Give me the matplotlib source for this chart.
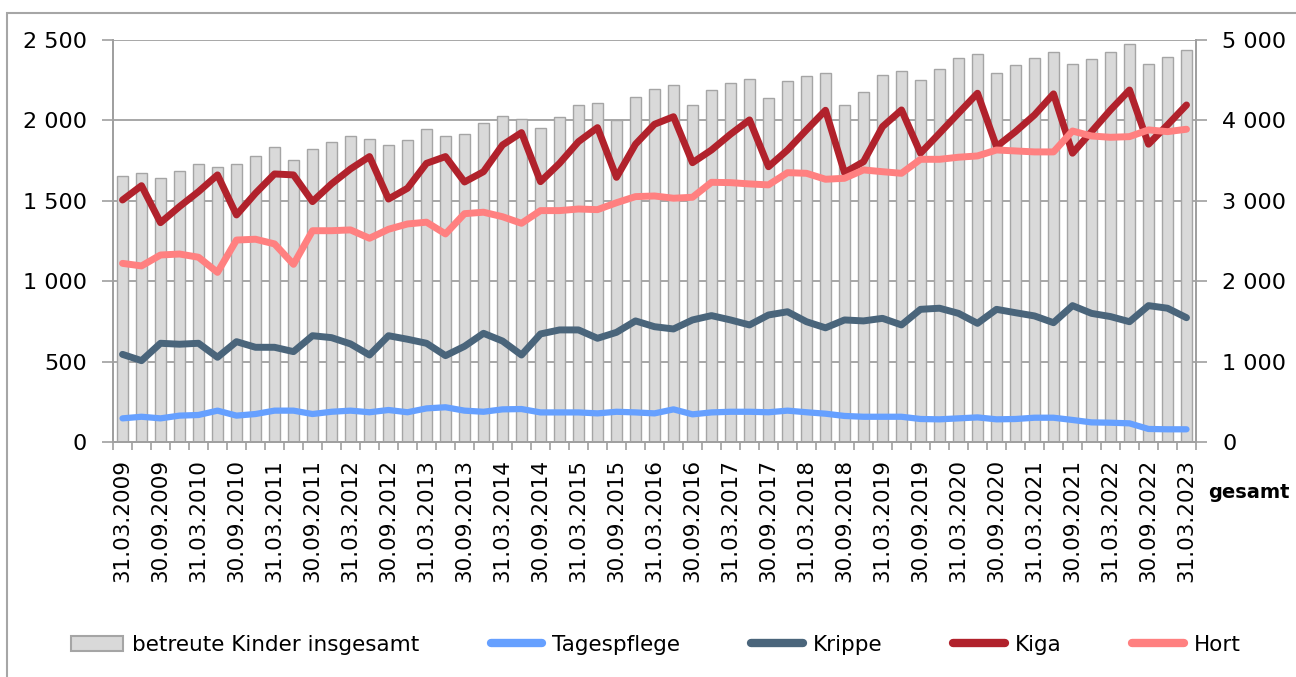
import numpy as np
import matplotlib
matplotlib.use('Agg')
import matplotlib.pyplot as plt
from matplotlib.lines import Line2D
from matplotlib.patches import Patch, Rectangle

# quarterly reporting dates 31.03.2009 .. 31.03.2023
years = list(range(2009, 2024))
quarter_days = ['31.03.', '30.06.', '30.09.', '31.12.']
dates = [d + str(y) for y in years for d in quarter_days][:57]

# betreute Kinder insgesamt (right axis)
gesamt = [3310, 3350, 3280, 3375, 3460, 3415, 3460, 3555, 3670, 3510,
          3640, 3730, 3800, 3765, 3690, 3750, 3895, 3800, 3830, 3965,
          4060, 4020, 3905, 4040, 4190, 4215, 4005, 4295, 4390, 4435,
          4190, 4380, 4460, 4515, 4280, 4485, 4550, 4590, 4195, 4355,
          4565, 4615, 4500, 4640, 4770, 4830, 4595, 4695, 4770, 4855,
          4705, 4760, 4845, 4950, 4705, 4790, 4880]

tagespflege = [147, 157, 147, 164, 168, 195, 164, 174, 195, 195,
               174, 188, 195, 185, 199, 185, 209, 216, 195, 188,
               203, 205, 184, 184, 184, 178, 188, 184, 178, 203,
               172, 184, 188, 188, 185, 195, 185, 176, 162, 157,
               157, 157, 143, 141, 147, 153, 141, 143, 151, 151,
               137, 122, 120, 116, 81, 79, 79]

krippe = [545, 506, 614, 608, 614, 527, 624, 589, 589, 562,
          661, 649, 610, 541, 661, 639, 614, 537, 595, 676,
          628, 541, 672, 697, 697, 645, 682, 753, 717, 703,
          759, 786, 759, 728, 790, 810, 748, 710, 759, 753,
          769, 728, 825, 832, 800, 738, 825, 804, 784, 742,
          848, 800, 780, 748, 848, 832, 773]

kiga = [1505, 1594, 1364, 1464, 1557, 1661, 1412, 1547, 1667, 1661,
        1495, 1605, 1698, 1775, 1511, 1578, 1733, 1775, 1617, 1681,
        1847, 1924, 1619, 1733, 1868, 1955, 1646, 1852, 1976, 2023,
        1737, 1816, 1914, 2003, 1712, 1816, 1941, 2063, 1675, 1743,
        1961, 2065, 1796, 1920, 2045, 2169, 1837, 1930, 2034, 2165,
        1796, 1930, 2065, 2189, 1852, 1972, 2096]

hort = [1111, 1095, 1163, 1169, 1149, 1055, 1256, 1261, 1232, 1105,
        1314, 1314, 1319, 1267, 1323, 1356, 1367, 1294, 1420, 1429,
        1401, 1360, 1439, 1439, 1449, 1445, 1488, 1526, 1530, 1516,
        1522, 1615, 1613, 1605, 1599, 1675, 1671, 1634, 1640, 1692,
        1681, 1671, 1758, 1758, 1771, 1779, 1816, 1810, 1804, 1804,
        1934, 1903, 1895, 1899, 1941, 1930, 1945]

left_ticks = [0, 500, 1000, 1500, 2000, 2500]
right_ticks = [0, 1000, 2000, 3000, 4000, 5000]

def fmt(v):
    return f'{v:,}'.replace(',', ' ')

plt.rcParams['font.family'] = ['DejaVu Sans']
grid_c = '#a0a0a0'

fig = plt.figure(figsize=(12.96, 6.77), dpi=100)
fig.patches.append(Rectangle((7 / 1296, -0.1), 1.1, 1.1 - 13 / 677,
                             transform=fig.transFigure, fill=False,
                             edgecolor='#a6a6a6', lw=1.5, zorder=0))

ax = fig.add_axes([113 / 1296, 235 / 677, 1083 / 1296, 402 / 677])
ax2 = ax.twinx()
x = np.arange(len(dates))

# bars on the right axis ("gesamt")
ax.bar(x, gesamt, width=0.58, color='#d9d9d9', edgecolor='#a5a5a5', lw=1.0)
ax.set_ylim(0, 5000)
ax.set_xlim(-0.5, len(dates) - 0.5)
ax.yaxis.tick_right()
ax.set_yticks(right_ticks)
ax.set_yticklabels([fmt(v) for v in right_ticks])
ax.yaxis.grid(True, color=grid_c, lw=1.3)
ax.set_axisbelow(True)

# lines on the left axis
ax2.yaxis.tick_left()
ax2.set_ylim(0, 2500)
ax2.set_yticks(left_ticks)
ax2.set_yticklabels([fmt(v) for v in left_ticks])
kw = dict(solid_joinstyle='round', solid_capstyle='round')
ax2.plot(x, tagespflege, color='#66a0ff', lw=4.5, **kw)
ax2.plot(x, krippe, color='#4a657b', lw=5, **kw)
ax2.plot(x, kiga, color='#b1222c', lw=5, **kw)
ax2.plot(x, hort, color='#ff8080', lw=5, **kw)

ax.set_xticks(x[::2])
ax.set_xticklabels(dates[::2], rotation=90)
ax.set_xticks(np.arange(-0.5, len(dates), 1), minor=True)
ax.tick_params(axis='x', which='major', length=0, pad=12, labelsize=15.5)
ax.tick_params(axis='x', which='minor', length=6, color=grid_c, width=1.2)
for a in (ax, ax2):
    a.tick_params(axis='y', length=8, color=grid_c, width=1.2, pad=11, labelsize=16)
    for s in ('left', 'right', 'bottom'):
        a.spines[s].set_color(grid_c)
        a.spines[s].set_linewidth(1.3)
    a.spines['top'].set_visible(False)

fig.text(1208 / 1296, 1 - 492 / 677, 'gesamt', fontsize=14, fontweight='bold',
         ha='left', va='center')

handles = [Patch(facecolor='#d9d9d9', edgecolor='#a5a5a5', lw=1.5),
           Line2D([], [], color='#66a0ff', lw=6, solid_capstyle='round'),
           Line2D([], [], color='#4a657b', lw=6, solid_capstyle='round'),
           Line2D([], [], color='#b1222c', lw=6, solid_capstyle='round'),
           Line2D([], [], color='#ff8080', lw=6, solid_capstyle='round')]
labels = ['betreute Kinder insgesamt', 'Tagespflege', 'Krippe', 'Kiga', 'Hort']
fig.legend(handles, labels, loc='center', bbox_to_anchor=(0.506, 1 - 645 / 677),
           ncol=5, frameon=False, fontsize=15.5, handlelength=2.4,
           handletextpad=0.45, columnspacing=3.3)

fig.savefig('out.png', dpi=100)
